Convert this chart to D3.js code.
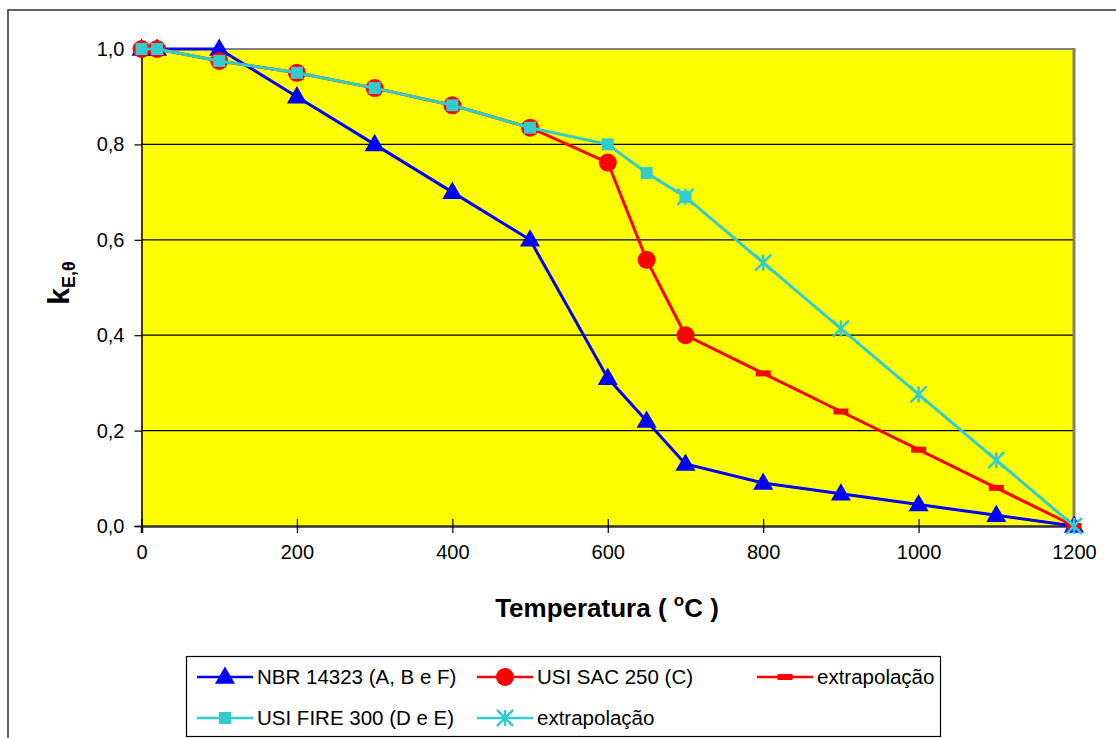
<!DOCTYPE html>
<html><head><meta charset="utf-8">
<script src="https://cdn.jsdelivr.net/npm/d3@7"></script>
<style>body{margin:0;background:#fff}svg{display:block;font-family:Arial,"Liberation Sans",sans-serif}</style>
</head><body><svg id="c" width="1116" height="738"></svg>
<script>
const tempsNBR = [0,20,100,200,300,400,500,600,650,700,800,900,1000,1100,1200];
const kNBR = [1,1,1,0.9,0.8,0.7,0.6,0.31,0.22,0.13,0.09,0.0675,0.045,0.0225,0];
const tempsSAC = [0,20,100,200,300,400,500,600,650,700];
const kSAC = [1,1,0.975,0.95,0.918,0.882,0.835,0.762,0.558,0.40];
const tempsSACext = [700,800,900,1000,1100,1200];
const kSACext = [0.40,0.32,0.24,0.16,0.08,0];
const tempsFIRE = [0,20,100,200,300,400,500,600,650,700];
const kFIRE = [1,1,0.975,0.95,0.918,0.882,0.835,0.80,0.74,0.69];
const tempsFIREext = [700,800,900,1000,1100,1200];
const kFIREext = [0.69,0.552,0.414,0.276,0.138,0];
const xTicks = [0,200,400,600,800,1000,1200];
const yTicks = [0,0.2,0.4,0.6,0.8,1.0];
const legendLabels = ["NBR 14323 (A, B e F)","USI SAC 250 (C)","extrapolação","USI FIRE 300 (D e E)","extrapolação"];

const svg = d3.select("#c");
const L=141.5,R=1074,T=49,B=526;
const x = d3.scaleLinear().domain([0,1200]).range([L,R]);
const y = d3.scaleLinear().domain([0,1]).range([B,T]);

// outer border
svg.append("rect").attr("x",8).attr("y",10).attr("width",1120).attr("height",740)
  .attr("fill","#fff").attr("stroke","#303030").attr("stroke-width",1.5);
// plot bg
svg.append("rect").attr("x",L).attr("y",T).attr("width",R-L).attr("height",B-T).attr("fill","#FFFF00");
// grid
svg.append("g").selectAll("line").data(yTicks.filter(v=>v>0&&v<1)).join("line")
  .attr("x1",L).attr("x2",R).attr("y1",d=>y(d)).attr("y2",d=>y(d)).attr("stroke","#000").attr("stroke-width",1.2);
// plot border top/right
svg.append("line").attr("x1",L).attr("x2",R+1.5).attr("y1",T).attr("y2",T).attr("stroke","#808080").attr("stroke-width",2);
svg.append("line").attr("x1",R).attr("x2",R).attr("y1",T).attr("y2",B).attr("stroke","#808080").attr("stroke-width",3);

const fmt = d=>d3.format(".1f")(d).replace(".",",");
const yAxis = svg.append("g").attr("transform",`translate(${L},0)`)
  .call(d3.axisLeft(y).tickValues(yTicks).tickFormat(fmt).tickSize(7).tickPadding(10));
yAxis.select(".domain").attr("stroke","#000").attr("stroke-width",1.5);
yAxis.selectAll(".tick line").attr("stroke","#000").attr("stroke-width",1.2);
yAxis.selectAll("text").attr("font-size",20).attr("fill","#000").attr("font-family","Arial, Liberation Sans");

const xAxis = svg.append("g").attr("transform",`translate(0,${B})`)
  .call(d3.axisBottom(x).tickValues(xTicks).tickFormat(d3.format("d")).tickSize(7).tickPadding(12));
xAxis.select(".domain").attr("stroke","#333").attr("stroke-width",2.5);
xAxis.selectAll(".tick line").attr("stroke","#000").attr("stroke-width",1.2).attr("y1",-7);
xAxis.selectAll("text").attr("font-size",20).attr("fill","#000").attr("font-family","Arial, Liberation Sans");

// titles
const xt = svg.append("text").attr("x",607).attr("y",617).attr("text-anchor","middle")
  .attr("font-size",26).attr("font-weight","bold");
xt.append("tspan").text("Temperatura ( ");
xt.append("tspan").attr("font-size",17).attr("dy",-11).text("o");
xt.append("tspan").attr("dy",11).text("C )");

const yt = svg.append("text").attr("transform","translate(69,283) rotate(-90)").attr("text-anchor","middle")
  .attr("font-weight","bold");
yt.append("tspan").attr("font-size",30).text("k");
yt.append("tspan").attr("font-size",18).attr("dy",6).text("E,θ");

// markers
function marker(g, type, color, cx, cy){
  if(type==="tri"){
    g.append("path").attr("d",d3.symbol(d3.symbolTriangle,175)()).attr("transform",`translate(${cx},${cy+1})`).attr("fill",color);
  } else if(type==="circle"){
    g.append("circle").attr("cx",cx).attr("cy",cy).attr("r",9).attr("fill",color);
  } else if(type==="square"){
    g.append("rect").attr("x",cx-6).attr("y",cy-6).attr("width",12).attr("height",12).attr("fill",color);
  } else if(type==="dash"){
    g.append("rect").attr("x",cx-7.5).attr("y",cy-3).attr("width",15).attr("height",6).attr("fill",color);
  } else if(type==="star"){
    const s=8;
    g.append("path").attr("d",`M${cx-s},${cy-s}L${cx+s},${cy+s}M${cx-s},${cy+s}L${cx+s},${cy-s}M${cx},${cy-s}L${cx},${cy+s}`)
      .attr("stroke",color).attr("stroke-width",2.5).attr("fill","none");
  }
}
const series = [
  {t:tempsNBR,k:kNBR,color:"#0000FF",m:"tri"},
  {t:tempsSAC,k:kSAC,color:"#FF0000",m:"circle"},
  {t:tempsSACext,k:kSACext,color:"#FF0000",m:"dash"},
  {t:tempsFIRE,k:kFIRE,color:"#33CCCC",m:"square"},
  {t:tempsFIREext,k:kFIREext,color:"#33CCCC",m:"star"}
];
const line = d3.line().x(d=>x(d[0])).y(d=>y(d[1]));
series.forEach(s=>{
  const pts = s.t.map((t,i)=>[t,s.k[i]]);
  const g = svg.append("g");
  g.append("path").attr("d",line(pts)).attr("fill","none").attr("stroke",s.color).attr("stroke-width",3);
  pts.forEach(p=>marker(g,s.m,s.color,x(p[0]),y(p[1])));
});

// legend
svg.append("rect").attr("x",186.5).attr("y",656.5).attr("width",754).attr("height",80)
  .attr("fill","#fff").attr("stroke","#000").attr("stroke-width",1.2);
const legPos = [[197,677],[477,677],[757,677],[197,718],[477,718]];
series.forEach((s,i)=>{
  const [lx,ly]=legPos[i];
  const g=svg.append("g");
  g.append("line").attr("x1",lx).attr("x2",lx+56).attr("y1",ly).attr("y2",ly).attr("stroke",s.color).attr("stroke-width",2.5);
  marker(g,s.m,s.color,lx+28,ly);
  g.append("text").attr("x",lx+60).attr("y",ly+7).attr("font-size",20.5).text(legendLabels[i]);
});
</script></body></html>
